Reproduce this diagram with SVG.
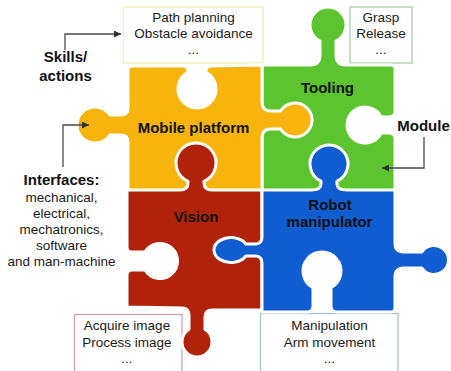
<svg xmlns="http://www.w3.org/2000/svg" width="451" height="371" viewBox="0 0 451 371">
  <style>
    .piece { stroke: #ffffff; stroke-width: 3; stroke-linejoin: round; }
    .label { font-family: "Liberation Sans", Arial, sans-serif; font-size: 15px; font-weight: bold; fill: #111111; text-anchor: middle; }
    .note { font-family: "Liberation Sans", Arial, sans-serif; font-size: 13.5px; fill: #1a1a1a; text-anchor: middle; }
    .box { fill: #ffffff; stroke-width: 1.3; }
    .conn { fill: none; stroke: #4a4a4a; stroke-width: 1.3; }
  </style>
  <defs>
    <marker id="arrow" markerUnits="userSpaceOnUse" markerWidth="8" markerHeight="7" refX="7" refY="3.5" orient="auto">
      <path d="M0,0 L7,3.5 L0,7 Z" fill="#333333"/>
    </marker>
  </defs>
  <rect width="451" height="371" fill="#ffffff"/>

  <!-- skill boxes -->
  <g id="box-mobile">
    <rect class="box" x="123.5" y="7" width="139.5" height="56" stroke="#eef0b6"/>
    <text class="note" x="193.5" y="22">Path planning</text>
    <text class="note" x="193.5" y="38">Obstacle avoidance</text>
    <text class="note" x="193.5" y="54">...</text>
  </g>
  <g id="box-tooling">
    <rect class="box" x="350" y="7" width="62" height="56" stroke="#a9d0a9"/>
    <text class="note" x="381" y="22">Grasp</text>
    <text class="note" x="381" y="38">Release</text>
    <text class="note" x="381" y="54">...</text>
  </g>
  <g id="box-vision">
    <rect class="box" x="74.5" y="314.5" width="107.5" height="60" stroke="#c9a2ad"/>
    <text class="note" x="127" y="330">Acquire image</text>
    <text class="note" x="127" y="347">Process image</text>
    <text class="note" x="127" y="363">...</text>
  </g>
  <g id="box-manipulator">
    <rect class="box" x="260.5" y="313.5" width="137.5" height="60" stroke="#aac3d1"/>
    <text class="note" x="329.5" y="330">Manipulation</text>
    <text class="note" x="329.5" y="347">Arm movement</text>
    <text class="note" x="329.5" y="363">...</text>
  </g>

  <!-- puzzle pieces: drawn so that each tab lies over its neighbour's socket -->
  <g id="tooling">
    <path class="piece" fill="#5cc42e" d="M262,65 L310,65 Q320,65 320,55 L320,41.1 A18 18 0 1 1 336,41.1 L336,55 Q336,65 346,65 L391,65 Q395,65 395,69 L395,111 Q395,117 389,117 L381.1,117 A18 18 0 1 0 381.1,133 L389,133 Q395,133 395,139 L395,191 L262,191 Z"/>
    <text class="label" x="327.5" y="93">Tooling</text>
  </g>
  <g id="mobile-platform">
    <path class="piece" fill="#f7b40d" d="M128,70 Q128,66 132,66 L183,66 Q188,66 188,71 L188,72.3 A19 19 0 1 0 206,72.3 L206,71 Q206,66 211,66 L262,65 L262,102 Q262,111 271,111 L280.6,111 A17 17 0 1 1 280.6,129 L271,129 Q262,129 262,138 L262,191 L128,191 L128,142 Q128,135 121,135 L110,135 A18 18 0 1 1 110,115 L121,115 Q128,115 128,108 Z"/>
    <text class="label" x="193.5" y="133">Mobile platform</text>
  </g>
  <g id="vision">
    <path class="piece" fill="#b1220b" d="M127,190 L180,190 Q188,190 188,183 L188,181.3 A20 20 0 1 1 204,181.3 L204,183 Q204,190 212,190 L262,190 L262,310 L212,310 Q205,310 205,317 L205,329.3 A15 15 0 1 1 189,329.3 L189,315 Q189,308 182,308 L127,307 L127,275 Q127,270 132,270 L145,270 A17.5 17.5 0 1 0 145,252 L132,252 Q127,252 127,247 Z"/>
    <text class="label" x="196" y="222">Vision</text>
  </g>
  <g id="robot-manipulator">
    <path class="piece" fill="#105cd1" d="M262,190 L311,190 Q321,190 321,184 L321,181.2 A19 19 0 1 1 337,181.2 L337,184 Q337,190 347,190 L395,190 L395,243 Q395,252 404,252 L421.9,252 A14.5 14.5 0 1 1 421.9,268 L404,268 Q395,268 395,277 L395,308 Q395,312 391,312 L337,312 Q331,312 331,306 L331,287.7 A19 19 0 1 0 313,287.7 L313,306 Q313,312 307,312 L262,312 L262,263 Q262,256 255,256 L245.9,256 A17 12.5 0 1 1 245.9,244 L255,244 Q262,244 262,237 Z"/>
    <text class="label" x="330" y="210">Robot</text>
    <text class="label" x="329.5" y="227">manipulator</text>
  </g>

  <!-- annotations -->
  <g id="annotations">
    <text class="label" x="65.5" y="62">Skills/</text>
    <text class="label" x="65.5" y="81">actions</text>
    <text class="label" x="61.5" y="185">Interfaces:</text>
    <text class="note" x="61.5" y="202">mechanical,</text>
    <text class="note" x="61.5" y="218">electrical,</text>
    <text class="note" x="61.5" y="234">mechatronics,</text>
    <text class="note" x="61.5" y="250">software</text>
    <text class="note" x="61.5" y="266">and man-machine</text>
    <text class="label" x="423.5" y="131">Module</text>
  </g>

  <g id="connectors">
    <path class="conn" d="M65,50 V34 H121" marker-end="url(#arrow)"/>
    <path class="conn" d="M63,167 V125 H89" marker-end="url(#arrow)"/>
    <path class="conn" d="M424,137 V168 H382" marker-end="url(#arrow)"/>
  </g>
</svg>
